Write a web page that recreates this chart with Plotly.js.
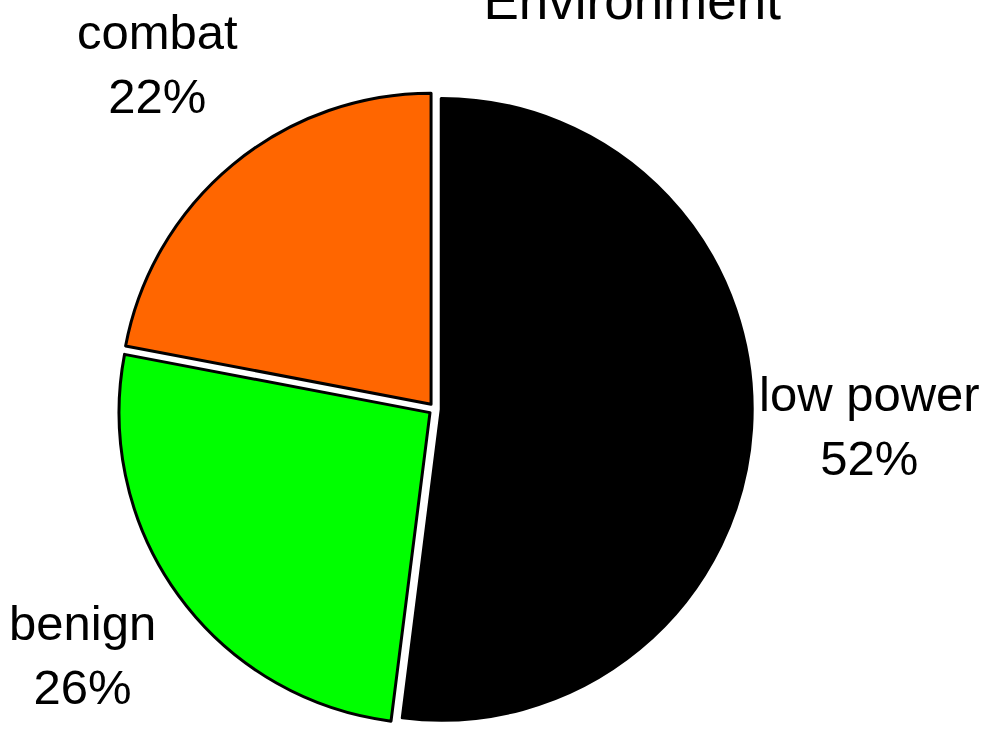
<!DOCTYPE html>
<html>
<head>
<meta charset="utf-8">
<script src="https://cdn.plot.ly/plotly-3.0.1.min.js"></script>
<style>html,body{margin:0;padding:0;background:#fff;}#chart{width:994px;height:729px;}</style>
</head>
<body>
<div id="chart"></div>
<script>
const categories = ["low power", "benign", "combat"];
const shares = [52, 26, 22];
const sliceColors = ["#000000", "#00FF00", "#FF6600"];
const chartTitle = "Environment";

const W = 994, H = 729;
const pullFrac = 0.02;
const domX = [0.1185, 0.7568];
const domY = [0.0039, 0.8741];
const labelDist = 1.40;
const labelLiftPx = 10;
const FONT = "Liberation Sans, Arial, sans-serif";

// geometry of the pie as Plotly computes it
const boxW = (domX[1] - domX[0]) * W, boxH = (domY[1] - domY[0]) * H;
const rPx = Math.min(boxW, boxH) / (2 + 2 * pullFrac);
const cx = (domX[0] + domX[1]) / 2, cy = (domY[0] + domY[1]) / 2;

const total = shares.reduce((a, b) => a + b, 0);
let cum = 0;
const annotations = categories.map((c, i) => {
  const mid = (cum + shares[i] / 2) / total * 2 * Math.PI; // clockwise from 12 o'clock
  cum += shares[i];
  const dx = Math.sin(mid) * rPx * labelDist;
  const dy = Math.cos(mid) * rPx * labelDist + labelLiftPx;
  return {
    xref: "paper", yref: "paper",
    x: cx + dx / W, y: cy + dy / H,
    xanchor: "center", yanchor: "middle",
    text: c + "<br>" + Math.round(shares[i] / total * 100) + "%",
    showarrow: false, align: "center",
    font: { family: FONT, size: 49, color: "#000000" }
  };
});

const trace = {
  type: "pie",
  labels: categories,
  values: shares,
  sort: false,
  direction: "clockwise",
  rotation: 0,
  pull: pullFrac,
  marker: { colors: sliceColors, line: { color: "#000000", width: 3 } },
  textinfo: "none",
  hoverinfo: "label+percent",
  domain: { x: domX, y: domY },
  showlegend: false
};

const layout = {
  width: W,
  height: H,
  margin: { l: 0, r: 0, t: 0, b: 0 },
  paper_bgcolor: "#ffffff",
  title: {
    text: chartTitle,
    font: { family: FONT, size: 53, color: "#000000" },
    xref: "paper", x: 0.636, xanchor: "center",
    yref: "container", y: 1.015, yanchor: "middle"
  },
  annotations: annotations,
  font: { family: FONT }
};

Plotly.newPlot("chart", [trace], layout, { displayModeBar: false, staticPlot: true });
</script>
</body>
</html>
